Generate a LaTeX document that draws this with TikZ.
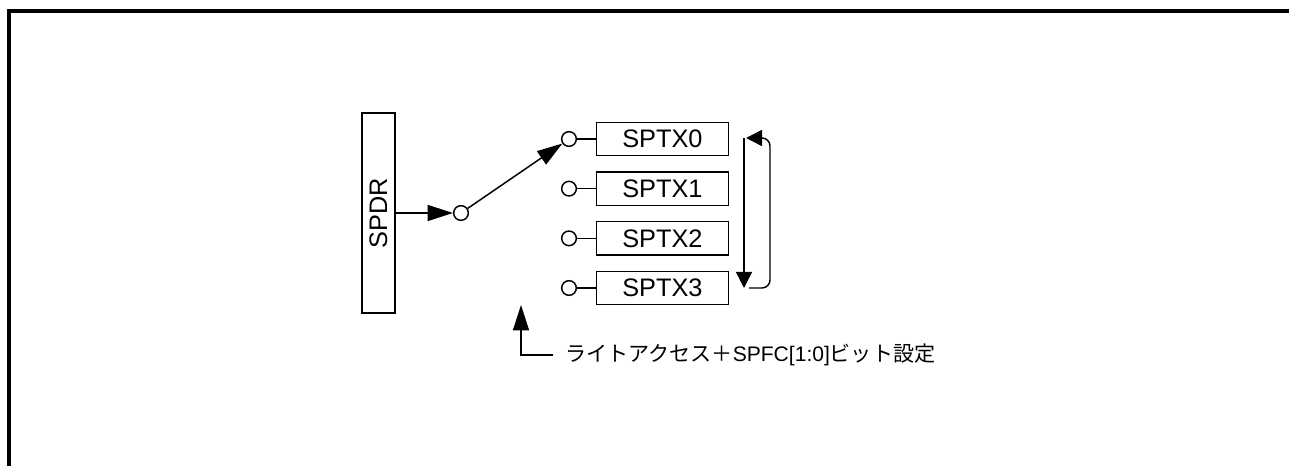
\documentclass[tikz,border=0pt]{standalone}
\usepackage{fontspec}
\setmainfont{Liberation Sans}
\newfontfamily\jpfont{Noto Sans CJK JP}
\usetikzlibrary{arrows.meta,positioning}

\begin{document}
\begin{tikzpicture}[
  x=0.75pt, y=-0.75pt,
  reg/.style={
    draw, line width=1.2pt, minimum width=99pt,
    minimum height=25pt, inner sep=0pt,
    font=\fontsize{19}{19}\selectfont
  },
  port/.style={draw, circle, line width=1.1pt, minimum size=11pt, inner sep=0pt},
  wire/.style={line width=1.1pt},
  bigarr/.style={wire, -{Triangle[length=19pt,width=12pt]}},
  smallarr/.style={wire, -{Triangle[length=12pt,width=12pt]}},
]
\useasboundingbox (0,0) rectangle (1289,466);

% outer frame
\draw[line width=2.6pt] (9,466) -- (9,11) -- (1289,11);

\node[draw, line width=1.2pt, minimum width=150pt, minimum height=24.75pt,
  inner sep=0pt, rotate=90, font=\fontsize{19}{19}\selectfont] (spdr) at (378.5,213) {SPDR};
\node[port] (sel) at (461,213) {};

\foreach \i in {0,...,3} {
  \node[port] (p\i) at (569, 139+49.67*\i) {};
  \node[reg, right=13.9pt of p\i] (tx\i) {SPTX\i};
  \draw[wire] (p\i) -- (tx\i);
}

\draw[bigarr] (spdr) -- (sel);
\draw[bigarr] (sel) -- (p0);

% ring buffer order
\coordinate (cyc0) at (744,138);
\coordinate (cyc3) at (744,288);
\draw[smallarr] (cyc0) -- (cyc3);
\draw[smallarr, rounded corners=6pt]
  ([xshift=3.75pt]cyc3) -| ([xshift=19.5pt]cyc0) -- ([xshift=1.5pt]cyc0);

% write access note
\node[anchor=west, inner sep=0pt, font=\fontsize{15.8}{16}\selectfont] (note) at (565,355)
  {{\jpfont ライトアクセス＋}SPFC[1:0]{\jpfont ビット設定}};
\coordinate (acc) at (521,305);
\draw[bigarr] ([xshift=-9pt]note.west) -| (acc);

\end{tikzpicture}
\end{document}
